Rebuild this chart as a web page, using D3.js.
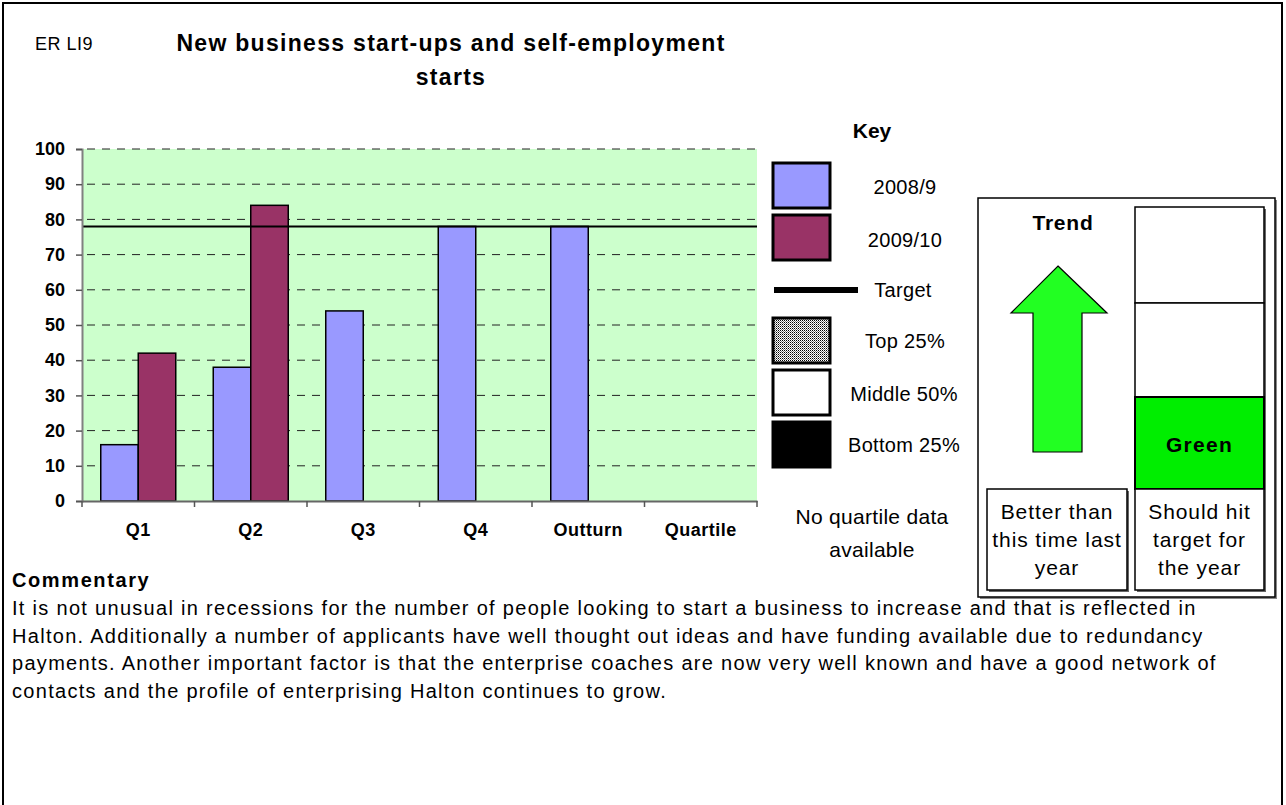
<!DOCTYPE html>
<html>
<head>
<meta charset="utf-8">
<title>ER LI9 – New business start-ups and self-employment starts</title>
<script src="https://cdn.jsdelivr.net/npm/d3@7/dist/d3.min.js"></script>
<style>
  html, body { margin: 0; padding: 0; background: #fff; }
  svg { display: block; font-family: "Liberation Sans", Arial, sans-serif; }
</style>
</head>
<body>
<svg id="chart" width="1286" height="805"></svg>
<script>
// ---- data ----
const categories = ["Q1", "Q2", "Q3", "Q4", "Outturn", "Quartile"];
const seriesNames = ["2008/9", "2009/10"];
const values2008 = [16, 38, 54, 78, 78, null];
const values2009 = [42, 84, null, null, null, null];
const targetValue = 78;
const yTickValues = [0, 10, 20, 30, 40, 50, 60, 70, 80, 90, 100];
const legendLabels = ["2008/9", "2009/10", "Target", "Top 25%", "Middle 50%", "Bottom 25%"];
const trendLines = ["Better than", "this time last", "year"];
const targetLines = ["Should hit", "target for", "the year"];
const ragStatus = "Green";
const commentaryLines = [
  "It is not unusual in recessions for the number of people looking to start a business to increase and that is reflected in",
  "Halton. Additionally a number of applicants have well thought out ideas and have funding available due to redundancy",
  "payments. Another important factor is that the enterprise coaches are now very well known and have a good network of",
  "contacts and the profile of enterprising Halton continues to grow."
];

const colors = { "2008/9": "#9999FF", "2009/10": "#993366" };

const svg = d3.select("#chart");

// fine dot pattern for the "Top 25%" swatch
const defs = svg.append("defs");
const pat = defs.append("pattern").attr("id", "dots")
  .attr("width", 2).attr("height", 2).attr("patternUnits", "userSpaceOnUse");
pat.append("rect").attr("width", 2).attr("height", 2).attr("fill", "#fff");
pat.append("rect").attr("width", 1).attr("height", 1).attr("fill", "#000");
pat.append("rect").attr("x", 1).attr("y", 1).attr("width", 1).attr("height", 1).attr("fill", "#777");

// page frame
svg.append("rect").attr("x", 3).attr("y", 3).attr("width", 1279).attr("height", 820)
  .attr("fill", "none").attr("stroke", "#000").attr("stroke-width", 2);

// heading
svg.append("text").attr("x", 35).attr("y", 50).attr("font-size", 18).attr("letter-spacing", 0.5).text("ER LI9");
const title = svg.append("text").attr("text-anchor", "middle").attr("font-weight", "bold")
  .attr("font-size", 23).attr("letter-spacing", 1.3);
title.append("tspan").attr("x", 451).attr("y", 51).text("New business start-ups and self-employment");
title.append("tspan").attr("x", 451).attr("y", 85).text("starts");

// ---- chart ----
const plot = { left: 82, right: 757, top: 149, bottom: 501 };

const x = d3.scaleBand().domain(categories).range([plot.left, plot.right]).paddingInner(0).paddingOuter(0);
const xInner = d3.scaleBand().domain(seriesNames).range([0, x.bandwidth()]).paddingInner(0).paddingOuter(0.5);
const y = d3.scaleLinear().domain([0, 100]).range([plot.bottom, plot.top]);

const g = svg.append("g");

g.append("rect").attr("x", plot.left).attr("y", plot.top)
  .attr("width", plot.right - plot.left).attr("height", plot.bottom - plot.top)
  .attr("fill", "#CCFFCC");

// dashed gridlines
g.append("g").selectAll("line").data(yTickValues.filter(v => v > 0)).join("line")
  .attr("x1", plot.left).attr("x2", plot.right)
  .attr("y1", d => y(d)).attr("y2", d => y(d))
  .attr("stroke", "#222").attr("stroke-width", 1)
  .attr("stroke-dasharray", "8,7").attr("stroke-dashoffset", 10);

// bars
const barData = [];
categories.forEach((c, i) => {
  if (values2008[i] != null) barData.push({ cat: c, series: "2008/9", value: values2008[i] });
  if (values2009[i] != null) barData.push({ cat: c, series: "2009/10", value: values2009[i] });
});
g.append("g").selectAll("rect").data(barData).join("rect")
  .attr("x", d => x(d.cat) + xInner(d.series))
  .attr("y", d => y(d.value))
  .attr("width", xInner.bandwidth())
  .attr("height", d => y(0) - y(d.value))
  .attr("fill", d => colors[d.series])
  .attr("stroke", "#000").attr("stroke-width", 1.5);

// target line
g.append("line").attr("x1", plot.left).attr("x2", plot.right)
  .attr("y1", y(targetValue)).attr("y2", y(targetValue))
  .attr("stroke", "#000").attr("stroke-width", 2);

// y axis
const yAxis = g.append("g").attr("transform", `translate(${plot.left},0)`)
  .call(d3.axisLeft(y).tickValues(yTickValues).tickSize(6).tickPadding(11));
yAxis.select(".domain").attr("stroke", "#808080").attr("stroke-width", 2);
yAxis.selectAll(".tick line").attr("stroke", "#555").attr("stroke-width", 1.5);
yAxis.selectAll(".tick text").attr("font-size", 18).attr("font-weight", "bold")
  .attr("fill", "#000").attr("font-family", "Liberation Sans, Arial, sans-serif");

// x axis: labels centred in each category, ticks on category boundaries
const xAxis = g.append("g").attr("transform", `translate(0,${plot.bottom})`)
  .call(d3.axisBottom(x).tickSize(0).tickPadding(22));
xAxis.select(".domain").attr("stroke", "#666").attr("stroke-width", 2);
xAxis.selectAll(".tick text").attr("font-size", 18).attr("font-weight", "bold")
  .attr("letter-spacing", 0.5).attr("fill", "#000")
  .attr("font-family", "Liberation Sans, Arial, sans-serif");
const bounds = categories.map(c => x(c)).concat([plot.right]);
g.append("g").selectAll("line").data(bounds).join("line")
  .attr("x1", d => d).attr("x2", d => d)
  .attr("y1", plot.bottom).attr("y2", plot.bottom + 6)
  .attr("stroke", "#555").attr("stroke-width", 1.5);

// ---- key ----
svg.append("text").attr("x", 872).attr("y", 138).attr("text-anchor", "middle")
  .attr("font-weight", "bold").attr("font-size", 21).text("Key");

const swatches = [
  { y: 163, fill: colors["2008/9"] },
  { y: 215, fill: colors["2009/10"] },
  null,
  { y: 318, fill: "url(#dots)" },
  { y: 370, fill: "#fff" },
  { y: 422, fill: "#000" }
];
swatches.forEach(s => {
  if (!s) return;
  svg.append("rect").attr("x", 773).attr("y", s.y).attr("width", 57).attr("height", 45)
    .attr("fill", s.fill).attr("stroke", "#000").attr("stroke-width", 3);
});
svg.append("rect").attr("x", 774).attr("y", 287).attr("width", 84).attr("height", 6).attr("fill", "#000");

const legendY = [194, 247, 297, 348, 401, 452];
const legendX = [905, 905, 903, 905, 904, 904];
legendLabels.forEach((t, i) => {
  svg.append("text").attr("x", legendX[i]).attr("y", legendY[i]).attr("text-anchor", "middle")
    .attr("font-size", 20).attr("letter-spacing", 0.3).text(t);
});
const nq = svg.append("text").attr("text-anchor", "middle").attr("font-size", 21).attr("letter-spacing", 0.3);
nq.append("tspan").attr("x", 872).attr("y", 524).text("No quartile data");
nq.append("tspan").attr("x", 872).attr("y", 557).text("available");

// ---- trend / target status panel ----
const panel = svg.append("g");
// outer box with shadow
panel.append("rect").attr("x", 980).attr("y", 200).attr("width", 297).attr("height", 399).attr("fill", "#888");
panel.append("rect").attr("x", 978).attr("y", 198).attr("width", 297).attr("height", 399)
  .attr("fill", "#fff").attr("stroke", "#000").attr("stroke-width", 1.5);

panel.append("text").attr("x", 1063).attr("y", 230).attr("text-anchor", "middle")
  .attr("font-weight", "bold").attr("font-size", 21).attr("letter-spacing", 0.8).text("Trend");

// up arrow
const arrowPts = [[1058, 266], [1107, 313], [1082, 313], [1082, 452], [1033, 452], [1033, 313], [1011, 313]];
panel.append("path").attr("d", d3.line()(arrowPts) + "Z")
  .attr("fill", "#22FF22").attr("stroke", "#000").attr("stroke-width", 1.2);

// traffic-light column
const col = { x: 1135, w: 129 };
panel.append("rect").attr("x", col.x + 2).attr("y", 209).attr("width", col.w).attr("height", 383).attr("fill", "#666");
panel.append("rect").attr("x", col.x).attr("y", 207).attr("width", col.w).attr("height", 96)
  .attr("fill", "#fff").attr("stroke", "#000").attr("stroke-width", 1.5);
panel.append("rect").attr("x", col.x).attr("y", 303).attr("width", col.w).attr("height", 94)
  .attr("fill", "#fff").attr("stroke", "#000").attr("stroke-width", 1.5);
panel.append("rect").attr("x", col.x).attr("y", 397).attr("width", col.w).attr("height", 92)
  .attr("fill", "#00EE00").attr("stroke", "#000").attr("stroke-width", 2);
panel.append("text").attr("x", col.x + col.w / 2).attr("y", 452).attr("text-anchor", "middle")
  .attr("font-weight", "bold").attr("font-size", 21).attr("letter-spacing", 1.3).text(ragStatus);

// caption boxes
panel.append("rect").attr("x", 989).attr("y", 491).attr("width", 140).attr("height", 101).attr("fill", "#666");
panel.append("rect").attr("x", 987).attr("y", 489).attr("width", 140).attr("height", 101)
  .attr("fill", "#fff").attr("stroke", "#000").attr("stroke-width", 1.5);
panel.append("rect").attr("x", col.x).attr("y", 489).attr("width", col.w).attr("height", 101)
  .attr("fill", "#fff").attr("stroke", "#000").attr("stroke-width", 1.5);

const capY = [519, 547, 575];
trendLines.forEach((t, i) => panel.append("text").attr("x", 1057).attr("y", capY[i])
  .attr("text-anchor", "middle").attr("font-size", 21).attr("letter-spacing", 0.9).text(t));
targetLines.forEach((t, i) => panel.append("text").attr("x", col.x + col.w / 2).attr("y", capY[i])
  .attr("text-anchor", "middle").attr("font-size", 21).attr("letter-spacing", 0.9).text(t));

// ---- commentary ----
svg.append("text").attr("x", 12).attr("y", 587).attr("font-weight", "bold")
  .attr("font-size", 20).attr("letter-spacing", 1.6).text("Commentary");
const body = svg.append("text").attr("font-size", 20).attr("letter-spacing", 1.3);
commentaryLines.forEach((t, i) => body.append("tspan").attr("x", 12).attr("y", 615 + i * 27.5).text(t));
</script>
</body>
</html>
